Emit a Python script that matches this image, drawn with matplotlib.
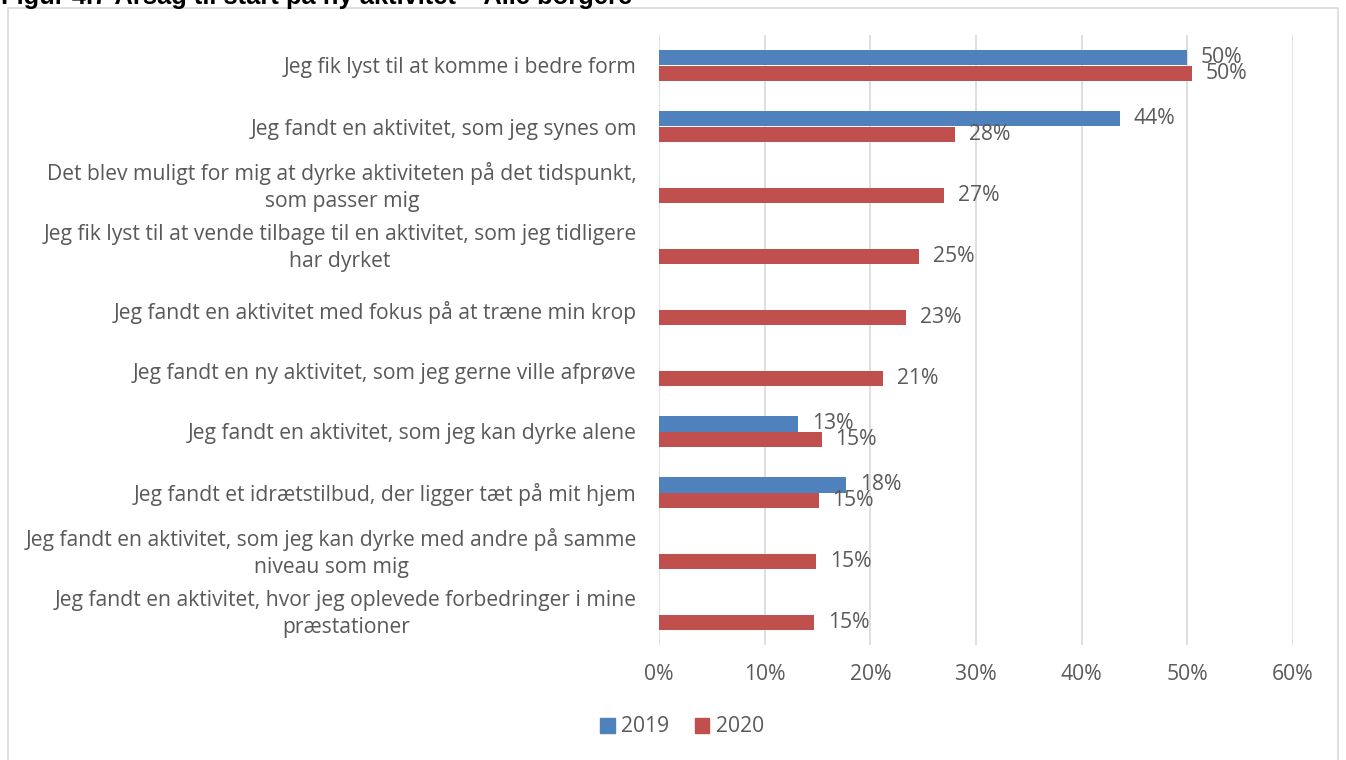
import matplotlib.pyplot as plt
import matplotlib.transforms as mtransforms
import numpy as np

plt.rcParams['font.family'] = ['Open Sans', 'DejaVu Sans']

categories = [
    "Jeg fik lyst til at komme i bedre form",
    "Jeg fandt en aktivitet, som jeg synes om",
    "Det blev muligt for mig at dyrke aktiviteten på det tidspunkt,\nsom passer mig",
    "Jeg fik lyst til at vende tilbage til en aktivitet, som jeg tidligere\nhar dyrket",
    "Jeg fandt en aktivitet med fokus på at træne min krop",
    "Jeg fandt en ny aktivitet, som jeg gerne ville afprøve",
    "Jeg fandt en aktivitet, som jeg kan dyrke alene",
    "Jeg fandt et idrætstilbud, der ligger tæt på mit hjem",
    "Jeg fandt en aktivitet, som jeg kan dyrke med andre på samme\nniveau som mig",
    "Jeg fandt en aktivitet, hvor jeg oplevede forbedringer i mine\npræstationer",
]
v2019 = [50.0, 43.6, None, None, None, None, 13.2, 17.7, None, None]
v2020 = [50.4, 28.0, 27.0, 24.6, 23.4, 21.2, 15.4, 15.1, 14.9, 14.7]
xticks = [0, 10, 20, 30, 40, 50, 60]

c2019 = '#4f81bd'
c2020 = '#c0504d'
txt = '#595959'
fs = 15.2

fig = plt.figure(figsize=(13.46, 7.6), dpi=100)
ax = fig.add_axes([659 / 1346, 1 - 645 / 760, (1293 - 659) / 1346, (645 - 35) / 760])

y = np.arange(len(categories))
h = 0.26
for vals, off, col in [(v2019, -h / 2, c2019), (v2020, h / 2, c2020)]:
    for i, v in enumerate(vals):
        if v is None:
            continue
        ax.barh(y[i] + off, v, height=h, color=col, zorder=3)
        ax.text(v + 1.3, y[i] + off, f"{round(v)}%", va='center', ha='left',
                fontsize=fs, color=txt)

ax.set_ylim(len(categories) - 0.5, -0.5)
ax.set_xlim(0, 60)
ax.set_xticks(xticks)
ax.set_xticklabels([f"{t}%" for t in xticks], fontsize=fs, color=txt)
ax.set_yticks(y)
ax.set_yticklabels(categories, fontsize=fs, color=txt, multialignment='center',
                   linespacing=1.4)
ax.tick_params(axis='both', length=0)
ax.tick_params(axis='x', pad=14)
ax.tick_params(axis='y', pad=16)
ax.grid(axis='x', color='#d9d9d9', linewidth=1.2, zorder=0)
for s in ax.spines.values():
    s.set_visible(False)

# two-line labels sit a little higher in the original
shift = mtransforms.ScaledTranslation(0, 6 / 100, fig.dpi_scale_trans)
for lab in ax.get_yticklabels():
    if '\n' in lab.get_text():
        lab.set_transform(lab.get_transform() + shift)

handles = [plt.Rectangle((0, 0), 1, 1, color=c2019), plt.Rectangle((0, 0), 1, 1, color=c2020)]
fig.legend(handles, ['2019', '2020'], loc='center', bbox_to_anchor=(682 / 1346, 1 - 727 / 760),
           ncol=2, frameon=False, fontsize=fs, labelcolor=txt, handlelength=0.7,
           handleheight=0.7, handletextpad=0.3, columnspacing=1.2)

# outer frame of the chart
fig.patches.append(plt.Rectangle((8 / 1346, -0.01), (1338 - 8) / 1346, 1 - 8 / 760 + 0.01,
                                 transform=fig.transFigure, fill=False,
                                 edgecolor='#d9d9d9', linewidth=1.2))

fig.text(1 / 1346, 1 - 4 / 760, "Figur 4.7 Årsag til start på ny aktivitet – Alle borgere",
         fontsize=18.4, fontweight='bold', color='black', va='baseline', ha='left',
         family=['Liberation Sans', 'DejaVu Sans'])

fig.savefig('out.png', dpi=100)
